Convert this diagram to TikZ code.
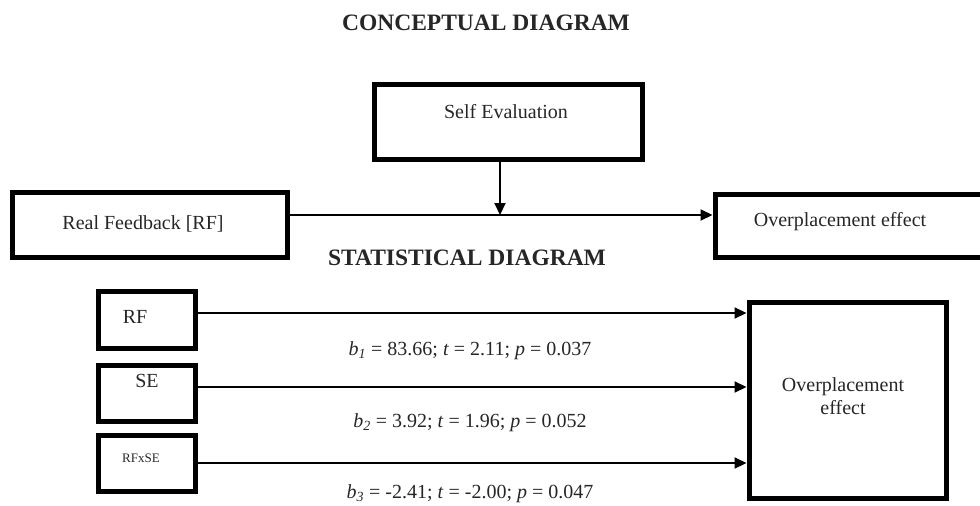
\documentclass[tikz,border=0pt]{standalone}
\usepackage{fontspec}
\setmainfont{Liberation Serif}
\usetikzlibrary{arrows.meta}
\begin{document}
\begin{tikzpicture}[x=1pt,y=-1pt,
  box/.style={draw=black, line width=5pt, inner sep=0pt},
  conn/.style={line width=2pt, -{Triangle[length=12pt,width=11pt]}},
  txt/.style={font=\fontsize{20}{23}\selectfont, inner sep=0pt, text=black!85},
  smalltxt/.style={font=\fontsize{13}{15}\selectfont, inner sep=0pt, text=black!85},
  ttl/.style={font=\fontsize{23.5}{27}\selectfont\bfseries, inner sep=0pt, text=black!85}]
\useasboundingbox (0,0) rectangle (980,506);
% ---------- conceptual diagram ----------
\node[ttl] (t1) at (486,23) {CONCEPTUAL DIAGRAM};
\node[box, minimum width=268pt, minimum height=75pt] (se) at (508.5,122) {};
\node[txt] (setxt) at (506,112) {Self Evaluation};
\node[box, minimum width=275pt, minimum height=65pt] (rf) at (150,225) {};
\node[txt] (rftxt) at (143,224) {Real Feedback [RF]};
\node[box, minimum width=270pt, minimum height=63pt] (op) at (850,226) {};
\node[txt] (optxt) at (840,222) {Overplacement effect};
\path ([yshift=10pt]rf.east) coordinate (c1);
\coordinate (j) at (500,215);
\draw[conn] (c1) -- (c1 -| op.west);
\draw[conn] (j |- se.south) -- (j);
% ---------- statistical diagram ----------
\node[ttl] (t2) at (467,258) {STATISTICAL DIAGRAM};
\node[box, minimum width=97pt, minimum height=57pt] (brf) at (146.5,319.5) {};
\node[txt] (brftxt) at (135,317) {RF};
\node[box, minimum width=97pt, minimum height=56pt] (bse) at (146.5,393) {};
\node[txt] (bsetxt) at (147,381) {SE};
\node[box, minimum width=97pt, minimum height=56pt] (bint) at (146.5,463) {};
\node[smalltxt] (binttxt) at (141,458) {RFxSE};
\node[box, minimum width=197pt, minimum height=196pt] (big) at (847.5,400) {};
\node[txt, align=center] (bigtxt) at (843,396) {Overplacement\\effect};
\path ([yshift=6.5pt]brf.east) coordinate (s1);
\path ([yshift=6pt]bse.east) coordinate (s2);
\path (bint.east) coordinate (s3);
\draw[conn] (s1) -- (s1 -| big.west);
\draw[conn] (s2) -- (s2 -| big.west);
\draw[conn] (s3) -- (s3 -| big.west);
\node[txt] (l1) at (470,351) {\textit{b}\textsubscript{\textit{1}} = 83.66; \textit{t} = 2.11; \textit{p} = 0.037};
\node[txt] (l2) at (470,423) {\textit{b}\textsubscript{\textit{2}} = 3.92; \textit{t} = 1.96; \textit{p} = 0.052};
\node[txt] (l3) at (470,494) {\textit{b}\textsubscript{\textit{3}} = -2.41; \textit{t} = -2.00; \textit{p} = 0.047};
\end{tikzpicture}
\end{document}
